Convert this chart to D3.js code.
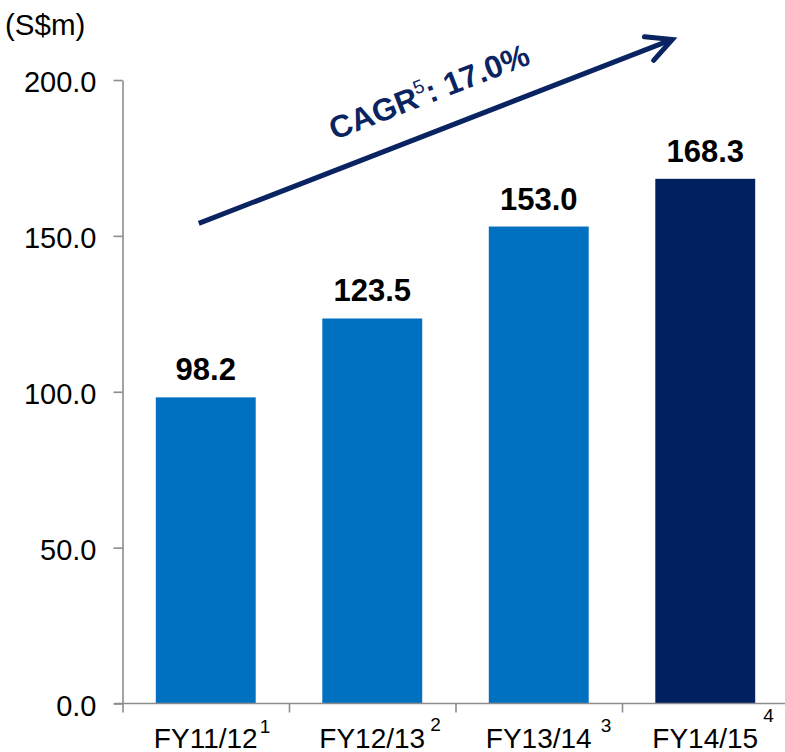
<!DOCTYPE html>
<html>
<head>
<meta charset="utf-8">
<script src="https://cdn.jsdelivr.net/npm/d3@7"></script>
<style>
  html, body { margin: 0; padding: 0; background: #ffffff; }
  svg { display: block; font-family: "Liberation Sans", Arial, sans-serif; }
</style>
</head>
<body>
<svg id="chart" width="785" height="752"></svg>
<script>
// Revenue by financial year (S$m)
const categories = ["FY11/12", "FY12/13", "FY13/14", "FY14/15"];
const footnotes  = ["1", "2", "3", "4"];
const revenue    = [98.2, 123.5, 153.0, 168.3];
const yTicks     = [0, 50, 100, 150, 200];
const unitLabel  = "(S$m)";
const cagrLabel  = { head: "CAGR", note: "5", tail: ": 17.0%" };

// Colours
const barColor     = "#0070C0";
const lastBarColor = "#002060";
const arrowColor   = "#0A2462";
const axisColor    = "#8C8C8C";

const svg = d3.select("#chart");

const x = d3.scaleBand()
  .domain(categories)
  .range([122.5, 788.5])
  .paddingInner(0.4)
  .paddingOuter(0.2);

const y = d3.scaleLinear()
  .domain([0, 200])
  .range([703.5, 80]);

// Bars
svg.append("g")
  .selectAll("rect")
  .data(revenue)
  .join("rect")
  .attr("x", (d, i) => x(categories[i]))
  .attr("y", d => y(d))
  .attr("width", x.bandwidth())
  .attr("height", d => y(0) - y(d))
  .attr("fill", (d, i) => i === revenue.length - 1 ? lastBarColor : barColor);

// Value labels above bars
svg.append("g")
  .selectAll("text")
  .data(revenue)
  .join("text")
  .attr("x", (d, i) => x(categories[i]) + x.bandwidth() / 2)
  .attr("y", d => y(d) - 17)
  .attr("text-anchor", "middle")
  .attr("font-size", 31)
  .attr("font-weight", "bold")
  .attr("fill", "#000")
  .text(d => d.toFixed(1));

// Y axis
const yAxis = svg.append("g")
  .attr("transform", "translate(122.5,0)")
  .call(d3.axisLeft(y)
    .tickValues(yTicks)
    .tickFormat(d3.format(".1f"))
    .tickSize(9)
    .tickSizeOuter(0)
    .tickPadding(17));
yAxis.select(".domain").attr("stroke", axisColor).attr("stroke-width", 1.6);
yAxis.selectAll(".tick line").attr("stroke", axisColor).attr("stroke-width", 1.6);
yAxis.selectAll(".tick text")
  .attr("font-size", 29)
  .attr("fill", "#000")
  .attr("dy", "0.4em");

// X axis baseline and category boundary ticks
const x0 = x.range()[0], step = x.step();
const axisG = svg.append("g").attr("stroke", axisColor).attr("stroke-width", 1.6);
axisG.append("line")
  .attr("x1", x0 + 0.5 - 9).attr("x2", x.range()[1] + 2)
  .attr("y1", y(0)).attr("y2", y(0));
axisG.selectAll("line.bound")
  .data(d3.range(categories.length + 1))
  .join("line")
  .attr("class", "bound")
  .attr("x1", i => x0 + i * step + 0.5)
  .attr("x2", i => x0 + i * step + 0.5)
  .attr("y1", y(0))
  .attr("y2", y(0) + 9);

// Category labels with footnote markers
const noteNudge = [[2, -15], [5, -17], [9, -16], [5, -26]];
const catG = svg.append("g");
categories.forEach((c, i) => {
  const cx = x(c) + x.bandwidth() / 2;
  const t = catG.append("text")
    .attr("x", cx)
    .attr("y", 748)
    .attr("text-anchor", "middle")
    .attr("font-size", 28)
    .attr("fill", "#000")
    .text(c);
  const w = t.node().getComputedTextLength();
  catG.append("text")
    .attr("x", cx + w / 2 + noteNudge[i][0])
    .attr("y", 748 + noteNudge[i][1])
    .attr("font-size", 19)
    .attr("fill", "#000")
    .text(footnotes[i]);
});

// Unit label
svg.append("text")
  .attr("x", 5)
  .attr("y", 35)
  .attr("font-size", 29.5)
  .attr("fill", "#000")
  .text(unitLabel);

// Growth arrow
const ax1 = x(categories[0]) + x.bandwidth() * 0.43, ay1 = y(154);
const ax2 = x(categories[3]) + 17, ay2 = y(213);
const back = Math.atan2(ay1 - ay2, ax1 - ax2);
const headLen = 28, spread = 27 * Math.PI / 180;
const arrowG = svg.append("g")
  .attr("stroke", arrowColor)
  .attr("stroke-width", 5)
  .attr("fill", "none");
arrowG.append("line")
  .attr("x1", ax1).attr("y1", ay1)
  .attr("x2", ax2 - 2 * Math.cos(back + Math.PI)).attr("y2", ay2 - 2 * Math.sin(back + Math.PI));
arrowG.append("path")
  .attr("stroke-linecap", "round")
  .attr("stroke-linejoin", "miter")
  .attr("d", d3.line()([
    [ax2 + headLen * Math.cos(back - spread), ay2 + headLen * Math.sin(back - spread)],
    [ax2, ay2],
    [ax2 + headLen * Math.cos(back + spread), ay2 + headLen * Math.sin(back + spread)]
  ]));

// CAGR label along the arrow
const angle = Math.atan2(ay2 - ay1, ax2 - ax1) * 180 / Math.PI;
const cagr = svg.append("text")
  .attr("transform", `translate(433,102) rotate(${angle})`)
  .attr("text-anchor", "middle")
  .attr("font-size", 31.5)
  .attr("font-weight", "bold")
  .attr("fill", arrowColor);
cagr.append("tspan").text(cagrLabel.head);
cagr.append("tspan")
  .attr("font-size", 19)
  .attr("font-weight", "normal")
  .attr("dy", -13)
  .text(cagrLabel.note);
cagr.append("tspan")
  .attr("dy", 13)
  .text(cagrLabel.tail);
</script>
</body>
</html>
